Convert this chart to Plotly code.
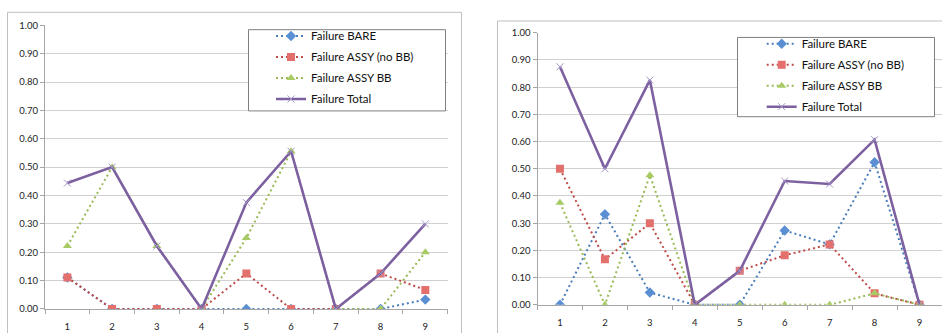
import plotly.graph_objects as go

# Failure fractions per test position, two test groups
categories = [1, 2, 3, 4, 5, 6, 7, 8, 9]
series_names = ["Failure BARE", "Failure ASSY (no BB)", "Failure ASSY BB", "Failure Total"]

left_bare = [0.111, 0.0, 0.0, 0.0, 0.0, 0.0, 0.0, 0.0, 0.033]
left_assy_nobb = [0.111, 0.0, 0.0, 0.0, 0.125, 0.0, 0.0, 0.125, 0.067]
left_assy_bb = [0.222, 0.5, 0.222, 0.0, 0.25, 0.556, 0.0, 0.0, 0.2]
left_total = [0.444, 0.5, 0.222, 0.0, 0.375, 0.556, 0.0, 0.125, 0.3]

right_bare = [0.0, 0.333, 0.045, 0.0, 0.0, 0.273, 0.222, 0.524, 0.0]
right_assy_nobb = [0.5, 0.167, 0.3, 0.0, 0.125, 0.182, 0.222, 0.042, 0.0]
right_assy_bb = [0.375, 0.0, 0.476, 0.0, 0.0, 0.0, 0.0, 0.042, 0.0]
right_total = [0.875, 0.5, 0.826, 0.0, 0.125, 0.455, 0.444, 0.607, 0.0]

W, H = 942, 333
FONT = "Lato"

# line colour, marker colour, marker symbol, dotted?
styles = [
    ("#4A7EBB", "#5B8FD3", "diamond", True),
    ("#BE4B48", "#E3706D", "square", True),
    ("#98B954", "#A9CB66", "triangle-up", True),
    ("#7D60A0", "#A497C8", "x-thin", False),
]


def px_x(v):
    return v / W


def px_y(v):
    return (H - v) / H


fig = go.Figure()


def add_panel(values, xa, ya, legend_name):
    for name, ys, (lc, mc, sym, dotted), grp in zip(
        series_names, values, styles, range(4)
    ):
        if dotted:
            line = dict(color=lc, width=2, dash="2px,3px")
            marker = dict(symbol=sym, size=8, color=mc, line=dict(width=0))
        else:
            line = dict(color=lc, width=2.6)
            marker = dict(symbol=sym, size=7, color=mc, line=dict(width=1, color=mc))
        fig.add_trace(
            go.Scatter(
                x=categories,
                y=ys,
                name=name,
                mode="lines+markers",
                line=line,
                marker=marker,
                xaxis=xa,
                yaxis=ya,
                legend=legend_name,
                legendgroup=f"{legend_name}_{grp}",
                connectgaps=False,
            )
        )


add_panel([left_bare, left_assy_nobb, left_assy_bb, left_total], "x", "y", "legend")
add_panel([right_bare, right_assy_nobb, right_assy_bb, right_total], "x2", "y2", "legend2")

tick_font = dict(family=FONT, size=9.5, color="#222222")
xcommon = dict(
    range=[0.5, 9.5],
    tickmode="array",
    tickvals=categories,
    ticktext=[str(c) for c in categories],
    ticks="outside",
    ticklen=9,
    tickcolor="rgba(0,0,0,0)",
    showgrid=False,
    zeroline=False,
    showline=True,
    linecolor="#A6A6A6",
    linewidth=1,
    tickfont=tick_font,
    minor=dict(ticks="outside", ticklen=4, tickcolor="#A6A6A6", tick0=0.5, dtick=1, showgrid=False),
    fixedrange=True,
)
ycommon = dict(
    range=[0, 1],
    dtick=0.1,
    tick0=0,
    tickformat=".2f",
    ticks="outside",
    ticklen=4,
    tickcolor="#A6A6A6",
    showgrid=True,
    gridcolor="#D0D0D0",
    gridwidth=1,
    zeroline=False,
    showline=True,
    linecolor="#A6A6A6",
    linewidth=1,
    tickfont=tick_font,
    fixedrange=True,
)

legend_common = dict(
    font=dict(family=FONT, size=11.5, color="#111111"),
    bgcolor="rgba(0,0,0,0)",
    borderwidth=0,
    tracegroupgap=2,
    itemwidth=30,
    xanchor="left",
    yanchor="top",
    itemclick=False,
    itemdoubleclick=False,
)

fig.update_layout(
    width=W,
    height=H,
    margin=dict(l=0, r=0, t=0, b=0),
    paper_bgcolor="white",
    plot_bgcolor="white",
    showlegend=True,
    xaxis=dict(domain=[px_x(45), px_x(447.7)], anchor="y", **xcommon),
    yaxis=dict(domain=[px_y(313.3), px_y(20)], anchor="x", **ycommon),
    xaxis2=dict(domain=[px_x(537.5), 1.0], anchor="y2", **xcommon),
    yaxis2=dict(domain=[px_y(309), px_y(27.7)], anchor="x2", **ycommon),
    legend=dict(x=px_x(271), y=px_y(16), **legend_common),
    legend2=dict(x=px_x(761.7), y=px_y(24), **legend_common),
    shapes=[
        # outer chart frames
        dict(type="rect", xref="paper", yref="paper",
             x0=px_x(7.5), x1=px_x(461.5), y0=-0.2, y1=px_y(6.5),
             line=dict(color="#BFBFBF", width=1), fillcolor="rgba(0,0,0,0)", layer="below"),
        dict(type="rect", xref="paper", yref="paper",
             x0=px_x(497.5), x1=1.2, y0=-0.2, y1=px_y(15.5),
             line=dict(color="#BFBFBF", width=1), fillcolor="rgba(0,0,0,0)", layer="below"),
        # legend boxes
        dict(type="rect", xref="paper", yref="paper",
             x0=px_x(248.5), x1=px_x(445.5), y0=px_y(108.5), y1=px_y(24.5),
             line=dict(color="#7F7F7F", width=1), fillcolor="white", layer="above"),
        dict(type="rect", xref="paper", yref="paper",
             x0=px_x(737.5), x1=px_x(934.5), y0=px_y(114.5), y1=px_y(32.5),
             line=dict(color="#7F7F7F", width=1), fillcolor="white", layer="above"),
    ],
)

fig.write_html("out.html")
